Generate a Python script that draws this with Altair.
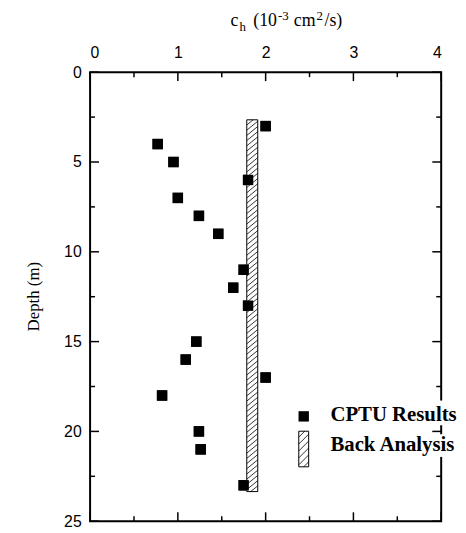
import altair as alt
import pandas as pd

# ---- data ----
ch = [2.0, 0.77, 0.95, 1.8, 1.0, 1.24, 1.46, 1.75, 1.63, 1.8, 1.21, 1.09, 2.0, 0.82, 1.24, 1.26, 1.75]
depth = [3, 4, 5, 6, 7, 8, 9, 11, 12, 13, 15, 16, 17, 18, 20, 21, 23]
back_ch = [1.785, 1.91]
back_depth = [2.65, 23.35]
x_major = [0, 1, 2, 3, 4]
x_minor = [0.5, 1.5, 2.5, 3.5]
y_major = [0, 5, 10, 15, 20, 25]
y_minor = [2.5, 7.5, 12.5, 17.5, 22.5]

W, H = 355, 454
SERIF = "Liberation Serif"
SANS = "Liberation Sans"

xs = alt.Scale(domain=[0, 4], nice=False, zero=False)
ys = alt.Scale(domain=[0, 25], reverse=True, nice=False, zero=False)

pts = pd.DataFrame({"ch": ch, "depth": depth})
bar = pd.DataFrame({"x1": [back_ch[0]], "x2": [back_ch[1]], "y1": [back_depth[0]], "y2": [back_depth[1]]})

# hatch segments inside the back-analysis bar
rise, step = 0.5, 0.29
top, bot = back_depth
bx1, bx2 = back_ch
rows = []
y0 = top + step
while y0 < bot + rise:
    ya, xa = y0, bx1
    yb, xb = y0 - rise, bx2
    if ya > bot:
        xa = bx1 + (ya - bot) / rise * (bx2 - bx1)
        ya = bot
    if yb < top:
        xb = bx1 + (y0 - top) / rise * (bx2 - bx1)
        yb = top
    rows.append({"xa": xa, "ya": ya, "xb": xb, "yb": yb})
    y0 += step
hatch = pd.DataFrame(rows)

# ---- axes ----
x_axis = alt.Axis(orient="top", values=x_major, ticks=False, tickSize=0, domain=False, grid=False,
                  labelFont=SANS, labelFontSize=16, labelPadding=12, labelColor="black",
                  format="d", title=None)
y_axis = alt.Axis(orient="left", values=y_major, ticks=False, tickSize=0, domain=False, grid=False,
                  labelFont=SANS, labelFontSize=16, labelPadding=9, labelColor="black",
                  format="d", title=None)

points = alt.Chart(pts).mark_square(size=110, color="black", opacity=1).encode(
    x=alt.X("ch:Q", scale=xs, axis=x_axis),
    y=alt.Y("depth:Q", scale=ys, axis=y_axis))

bar_fill = alt.Chart(bar).mark_rect(fill="white", stroke=None).encode(
    x=alt.X("x1:Q", scale=xs, axis=x_axis), x2="x2:Q",
    y=alt.Y("y1:Q", scale=ys, axis=y_axis), y2="y2:Q")

hatch_lines = alt.Chart(hatch).mark_rule(color="black", strokeWidth=0.8).encode(
    x=alt.X("xa:Q", scale=xs, axis=x_axis), x2="xb:Q",
    y=alt.Y("ya:Q", scale=ys, axis=y_axis), y2="yb:Q")

bar_edge = alt.Chart(bar).mark_rect(fillOpacity=0, stroke="black", strokeWidth=1).encode(
    x=alt.X("x1:Q", scale=xs, axis=x_axis), x2="x2:Q",
    y=alt.Y("y1:Q", scale=ys, axis=y_axis), y2="y2:Q")

# ---- inward ticks on all four sides ----
def xticks(vals, length):
    d = pd.DataFrame({"v": vals})
    t = alt.Chart(d).mark_rule(color="black", strokeWidth=1.5).encode(
        x=alt.X("v:Q", scale=xs, axis=x_axis), y=alt.value(0), y2=alt.value(length))
    b = alt.Chart(d).mark_rule(color="black", strokeWidth=1.5).encode(
        x=alt.X("v:Q", scale=xs, axis=x_axis), y=alt.value(H), y2=alt.value(H - length))
    return [t, b]

def yticks(vals, length):
    d = pd.DataFrame({"v": vals})
    l = alt.Chart(d).mark_rule(color="black", strokeWidth=1.5).encode(
        y=alt.Y("v:Q", scale=ys, axis=y_axis), x=alt.value(0), x2=alt.value(length))
    r = alt.Chart(d).mark_rule(color="black", strokeWidth=1.5).encode(
        y=alt.Y("v:Q", scale=ys, axis=y_axis), x=alt.value(W), x2=alt.value(W - length))
    return [l, r]

ticks = xticks(x_major, 9) + xticks(x_minor, 5) + yticks(y_major, 9) + yticks(y_minor, 5)

# ---- titles ----
def txt(s, x, y, size, **kw):
    return alt.Chart(pd.DataFrame({"t": [s]})).mark_text(
        text=s, fontSize=size, font=SERIF, color="black", align=kw.pop("align", "left"),
        baseline=kw.pop("baseline", "alphabetic"), **kw).encode(x=alt.value(x), y=alt.value(y))

title_parts = [
    txt("c", 142, -47, 18),
    txt("h", 151, -42, 13),
    txt("(10", 165, -47, 18),
    txt("-3", 190, -53, 13),
    txt("cm", 206, -47, 18),
    txt("2", 229, -53, 13),
    txt("/s)", 237, -47, 18),
]
ytitle = txt("Depth (m)", -57, H / 2, 17, angle=270, align="center", baseline="middle")

# ---- legend ----
gap1 = alt.Chart(pd.DataFrame({"a": [0]})).mark_rect(fill="white").encode(
    x=alt.value(W - 5), x2=alt.value(W + 5), y=alt.value(332), y2=alt.value(357))
gap2 = alt.Chart(pd.DataFrame({"a": [0]})).mark_rect(fill="white").encode(
    x=alt.value(W - 5), x2=alt.value(W + 5), y=alt.value(366), y2=alt.value(389))

leg_sq = alt.Chart(pd.DataFrame({"a": [0]})).mark_square(size=110, color="black", opacity=1).encode(
    x=alt.value(216), y=alt.value(348))
lx1, lx2, ly1, ly2 = 211, 221, 363, 399
lrows = []
yy = ly1 + 6
while yy < ly2 + 10:
    ya, xa, yb, xb = yy, lx1, yy - 10, lx2
    if ya > ly2:
        xa = lx1 + (ya - ly2); ya = ly2
    if yb < ly1:
        xb = lx1 + (yy - ly1); yb = ly1
    lrows.append({"xa": xa, "ya": ya, "xb": xb, "yb": yb})
    yy += 7
leg_hatch = alt.Chart(pd.DataFrame(lrows)).mark_rule(color="black", strokeWidth=0.8).encode(
    x=alt.X("xa:Q", scale=None), x2="xb:Q", y=alt.Y("ya:Q", scale=None), y2="yb:Q")
leg_rect = alt.Chart(pd.DataFrame({"a": [0]})).mark_rect(fillOpacity=0, stroke="black", strokeWidth=1).encode(
    x=alt.value(lx1), x2=alt.value(lx2), y=alt.value(ly1), y2=alt.value(ly2))
leg_t1 = txt("CPTU Results", 243, 353, 21, fontWeight="bold")
leg_t2 = txt("Back Analysis", 243, 383, 21, fontWeight="bold")

chart = alt.layer(
    points, bar_fill, hatch_lines, bar_edge, *ticks, *title_parts, ytitle,
    gap1, gap2, leg_sq, leg_hatch, leg_rect, leg_t1, leg_t2,
    # redraw points on top of the bar
    alt.Chart(pts).mark_square(size=110, color="black", opacity=1).encode(
        x=alt.X("ch:Q", scale=xs, axis=x_axis), y=alt.Y("depth:Q", scale=ys, axis=y_axis)),
).properties(
    width=W, height=H,
    autosize=alt.AutoSizeParams(type="none"),
    padding={"left": 83, "top": 62, "right": 17, "bottom": 9},
    background="white",
).configure_view(stroke="black", strokeWidth=2)

chart.save("out.html", embed_options={"renderer": "svg", "actions": False})
